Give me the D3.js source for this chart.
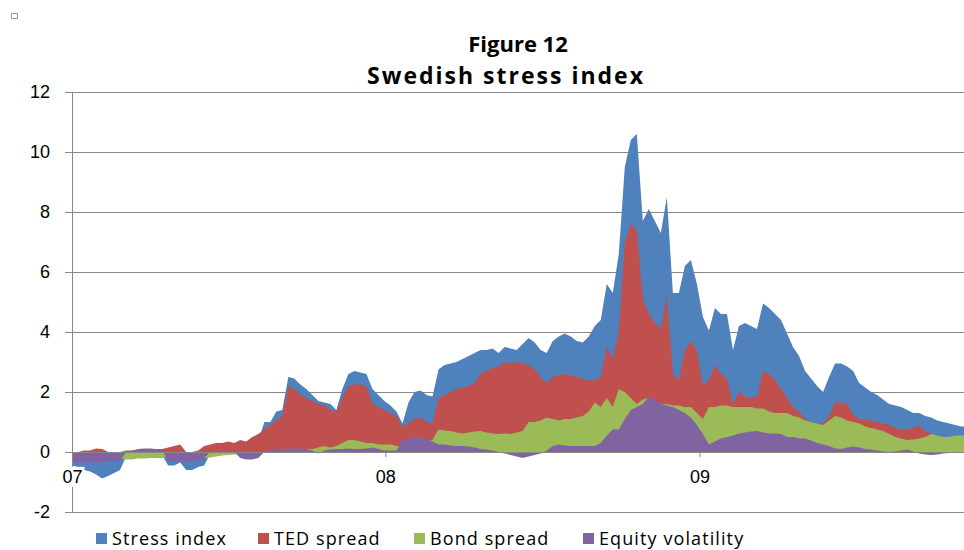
<!DOCTYPE html>
<html>
<head>
<meta charset="utf-8">
<script src="https://cdn.jsdelivr.net/npm/d3@7"></script>
<style>
  body { margin: 0; background: #fff; }
  svg { display: block; font-family: "Open Sans", sans-serif; }
</style>
</head>
<body>
<svg id="chart" width="964" height="550"></svg>
<script>
// Weekly readings, first week = 1 Jan 2007
var startDate = new Date(2007, 0, 1);

var stressIndex = [
  -0.45,-0.5,-0.6,-0.65,-0.75,-0.88,-0.8,-0.7,-0.6,-0.15,
  -0.15,-0.1,-0.05,-0.05,-0.05,-0.1,-0.45,-0.45,-0.35,-0.6,
  -0.6,-0.5,-0.45,-0.05,0.1,0.15,0.2,0.2,0.1,0.05,
  0.2,0.35,1.0,1.0,1.35,1.4,2.5,2.45,2.25,2.1,
  1.9,1.7,1.65,1.6,1.4,2.1,2.6,2.7,2.65,2.6,
  2.1,1.9,1.7,1.55,1.35,0.95,1.65,2.0,2.05,1.9,
  1.85,2.75,2.9,2.95,3.0,3.1,3.2,3.3,3.4,3.4,
  3.45,3.3,3.5,3.45,3.4,3.6,3.8,3.65,3.4,3.3,
  3.7,3.85,3.95,3.85,3.7,3.65,3.85,4.2,4.4,5.6,
  5.3,6.6,9.5,10.4,10.6,7.7,8.1,7.7,7.3,8.5,
  5.3,5.3,6.2,6.4,5.6,4.5,4.05,4.8,4.6,4.6,
  3.4,4.2,4.3,4.2,4.1,4.95,4.8,4.6,4.4,3.95,
  3.5,3.2,2.7,2.45,2.2,2.0,2.5,2.95,2.95,2.85,
  2.7,2.3,2.15,2.0,1.9,1.75,1.6,1.55,1.5,1.4,
  1.3,1.3,1.2,1.15,1.05,1.0,0.95,0.9,0.85,0.85
];

var tedSpread = [
  0.0,0.0,0.05,0.05,0.12,0.1,0.0,0.0,0.0,0.05,
  0.05,0.05,0.08,0.1,0.1,0.1,0.15,0.2,0.25,0.0,
  0.0,0.05,0.2,0.25,0.3,0.3,0.35,0.3,0.4,0.35,
  0.5,0.6,0.75,0.9,1.05,1.2,2.2,2.1,1.9,1.8,
  1.7,1.6,1.55,1.4,1.35,1.8,2.2,2.25,2.25,2.2,
  1.6,1.5,1.4,1.3,1.2,0.85,0.95,1.1,1.15,1.0,
  0.95,1.8,1.9,2.0,2.1,2.15,2.2,2.3,2.6,2.7,
  2.8,2.85,3.0,2.95,3.0,2.95,2.9,2.75,2.5,2.3,
  2.5,2.55,2.6,2.55,2.5,2.45,2.4,2.4,2.5,3.5,
  3.1,4.0,7.0,7.6,7.4,5.1,4.6,4.3,4.1,5.2,
  2.6,2.4,3.4,3.7,3.4,2.2,2.4,2.9,2.6,2.45,
  1.6,2.0,1.85,1.8,1.85,2.7,2.6,2.4,2.1,1.8,
  1.5,1.35,1.1,1.0,0.95,0.95,1.2,1.65,1.65,1.6,
  1.25,1.1,1.1,1.05,1.0,0.95,0.9,0.8,0.75,0.75,
  0.8,0.9,0.7,0.6,0.45,0.4,0.4,0.4,0.4,0.4
];

var bondSpread = [
  -0.2,-0.2,-0.25,-0.25,-0.3,-0.3,-0.25,-0.25,-0.2,-0.25,
  -0.25,-0.22,-0.22,-0.2,-0.2,-0.2,-0.15,-0.15,-0.15,-0.15,
  -0.15,-0.15,-0.2,-0.18,-0.15,-0.12,-0.1,-0.08,-0.05,-0.05,
  -0.05,-0.05,0.0,0.02,0.03,0.05,0.05,0.05,0.08,0.1,
  0.1,0.15,0.2,0.15,0.2,0.3,0.4,0.4,0.35,0.3,
  0.3,0.25,0.25,0.25,0.2,0.2,0.25,0.25,0.3,0.35,
  0.4,0.75,0.72,0.7,0.65,0.62,0.65,0.68,0.7,0.65,
  0.62,0.6,0.62,0.6,0.65,0.7,1.0,1.0,1.05,1.15,
  1.1,1.05,1.1,1.1,1.15,1.2,1.35,1.65,1.5,1.8,
  1.5,2.1,2.0,1.8,1.6,1.75,1.8,1.7,1.6,1.6,
  1.55,1.55,1.5,1.5,1.3,1.1,1.5,1.5,1.55,1.55,
  1.5,1.5,1.5,1.5,1.45,1.45,1.35,1.3,1.3,1.3,
  1.2,1.15,1.05,1.0,0.95,0.9,1.05,1.2,1.15,1.05,
  1.0,0.95,0.85,0.8,0.75,0.7,0.6,0.5,0.45,0.4,
  0.42,0.45,0.5,0.6,0.55,0.5,0.5,0.55,0.55,0.55
];

var equityVol = [
  -0.35,-0.35,-0.35,-0.35,-0.35,-0.35,-0.3,-0.3,-0.3,0.0,
  0.05,0.1,0.12,0.12,0.1,0.05,-0.3,-0.3,-0.3,-0.3,
  -0.3,-0.3,-0.2,0.0,0.02,0.02,0.0,0.0,-0.2,-0.25,
  -0.25,-0.2,0.0,0.05,0.1,0.1,0.1,0.12,0.12,0.1,
  0.05,-0.05,0.05,0.08,0.1,0.1,0.12,0.1,0.1,0.12,
  0.15,0.1,0.05,0.05,0.05,0.4,0.45,0.5,0.5,0.45,
  0.35,0.25,0.25,0.22,0.2,0.2,0.18,0.15,0.1,0.08,
  0.05,0.0,-0.05,-0.1,-0.15,-0.2,-0.15,-0.1,-0.05,0.05,
  0.2,0.25,0.22,0.2,0.2,0.2,0.2,0.2,0.3,0.55,
  0.75,0.75,1.1,1.4,1.5,1.6,1.85,1.75,1.6,1.55,
  1.5,1.4,1.3,1.15,0.9,0.6,0.25,0.35,0.45,0.5,
  0.55,0.62,0.65,0.68,0.7,0.65,0.62,0.62,0.6,0.5,
  0.5,0.45,0.45,0.38,0.3,0.25,0.2,0.12,0.1,0.15,
  0.18,0.15,0.1,0.08,0.05,0.02,0.0,0.02,0.05,0.08,
  0.02,-0.05,-0.08,-0.1,-0.08,-0.05,-0.03,-0.02,0.0,0.0
];

var seriesNames = ['Stress index', 'TED spread', 'Bond spread', 'Equity volatility'];
var yTicks = [-2, 0, 2, 4, 6, 8, 10, 12];
var xTicks = [new Date(2007, 0, 1), new Date(2008, 0, 1), new Date(2009, 0, 1)];
var titleLines = ['Figure 12', 'Swedish stress index'];

// styles
var colors = ['#4F81BD', '#C0504D', '#9BBB59', '#8064A2'];
var axisGrey = '#888888';
var legendX = [96, 258, 414, 583];

var weeks = stressIndex.map(function(d, i) { return d3.timeDay.offset(startDate, 7 * i); });
var allSeries = [stressIndex, tedSpread, bondSpread, equityVol];

var svg = d3.select('#chart');
var W = 964;
var plotLeft = 72, plotTop = 92, plotBottom = 512;

var x = d3.scaleTime()
  .domain([new Date(2007, 0, 1), new Date(2010, 0, 1)])
  .range([plotLeft, plotLeft + 3 * 313.6]);
var y = d3.scaleLinear().domain([-2, 12]).range([plotBottom, plotTop]);

// little marker in the corner
svg.append('rect')
  .attr('x', 11.5).attr('y', 13.5).attr('width', 6).attr('height', 5)
  .attr('fill', 'none').attr('stroke', '#999');

// title
svg.append('text').attr('x', 518).attr('y', 52)
  .attr('text-anchor', 'middle').style('font-weight', 'bold').style('font-size', '22px')
  .text(titleLines[0]);
svg.append('text').attr('x', 506).attr('y', 84)
  .attr('text-anchor', 'middle').style('font-weight', 'bold').style('font-size', '23px')
  .style('letter-spacing', '2px')
  .text(titleLines[1]);

// gridlines (behind areas)
var grid = svg.append('g')
  .attr('transform', 'translate(' + (plotLeft - 7) + ',0)')
  .call(d3.axisLeft(y).tickValues(yTicks).tickSize(-(W - plotLeft + 7)).tickFormat(''));
grid.select('.domain').remove();
grid.selectAll('line').attr('stroke', axisGrey);

// areas, each from zero, overlapping
var plot = svg.append('g');
allSeries.forEach(function(vals, k) {
  var area = d3.area()
    .x(function(d, i) { return x(weeks[i]); })
    .y0(y(0))
    .y1(function(d) { return y(d); });
  plot.append('path')
    .datum(vals)
    .attr('d', area)
    .attr('fill', colors[k]);
});

// y axis
var yAxis = svg.append('g')
  .attr('transform', 'translate(' + plotLeft + ',0)')
  .call(d3.axisLeft(y).tickValues(yTicks).tickSize(7).tickSizeOuter(0).tickPadding(15)
    .tickFormat(function(d) { return String(d); }));
yAxis.select('.domain').attr('stroke', axisGrey);
yAxis.selectAll('line').attr('stroke', axisGrey);
yAxis.selectAll('text').style('font-size', '18px').attr('fill', '#000');

// x axis on the zero line
var xAxis = svg.append('g')
  .attr('transform', 'translate(0,' + y(0) + ')')
  .call(d3.axisBottom(x).tickValues(xTicks).tickSize(5).tickSizeOuter(0).tickPadding(13)
    .tickFormat(d3.timeFormat('%y')));
xAxis.select('.domain').attr('stroke', axisGrey);
xAxis.selectAll('line').attr('stroke', axisGrey);
xAxis.selectAll('text').style('font-size', '18px').attr('fill', '#000');
xAxis.selectAll('.tick').each(function() {
  var t = d3.select(this).select('text');
  var b = t.node().getBBox();
  d3.select(this).insert('rect', 'text')
    .attr('x', b.x - 2).attr('y', b.y).attr('width', b.width + 4).attr('height', b.height)
    .attr('fill', '#fff');
});

// legend
var legend = svg.append('g');
seriesNames.forEach(function(name, k) {
  legend.append('rect')
    .attr('x', legendX[k]).attr('y', 533).attr('width', 11).attr('height', 11)
    .attr('fill', colors[k]);
  legend.append('text')
    .attr('x', legendX[k] + 16).attr('y', 544.5)
    .style('font-size', '18px')
    .style('letter-spacing', '1.1px')
    .text(name);
});
</script>
</body>
</html>
